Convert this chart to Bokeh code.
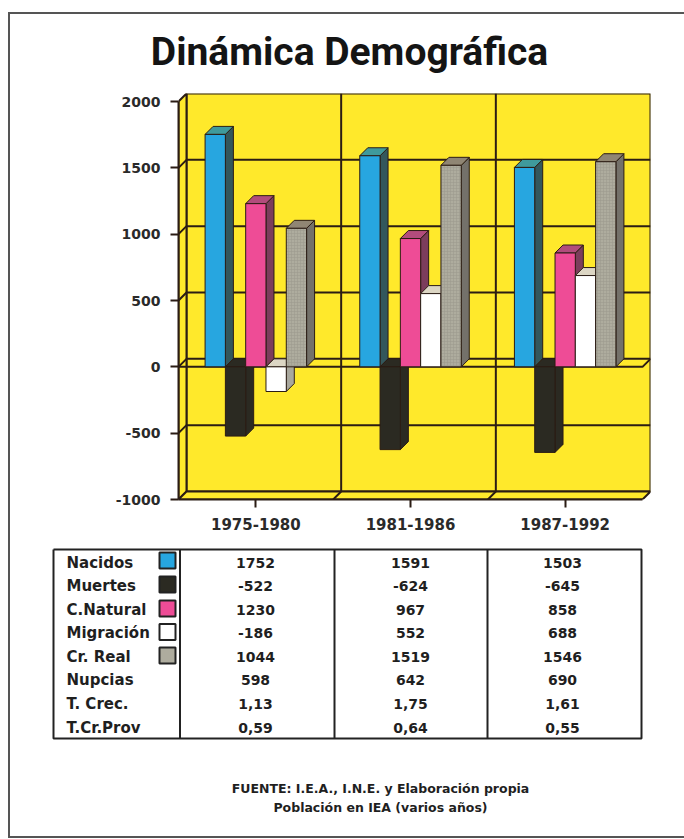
from bokeh.plotting import figure
from bokeh.layouts import column
from bokeh.models import FixedTicker, Range1d
from bokeh.core.properties import value
from bokeh.embed import file_html
from bokeh.resources import INLINE

TITLE = "Dinámica Demográfica"
PERIODS = ["1975-1980", "1981-1986", "1987-1992"]
NACIDOS = [1752, 1591, 1503]
MUERTES = [-522, -624, -645]
NATURAL = [1230, 967, 858]
MIGRACION = [-186, 552, 688]
REAL = [1044, 1519, 1546]
NUPCIAS = ["598", "642", "690"]
T_CREC = ["1,13", "1,75", "1,61"]
T_PROV = ["0,59", "0,64", "0,55"]
Y_TICKS = [-1000, -500, 0, 500, 1000, 1500, 2000]
ROW_LABELS = ["Nacidos", "Muertes", "C.Natural", "Migración", "Cr. Real", "Nupcias", "T. Crec.", "T.Cr.Prov"]
FOOT = ["FUENTE: I.E.A., I.N.E. y Elaboración propia", "Población en IEA (varios años)"]

INK = "#2b1c14"
YELLOW = "#ffe92b"
FONT = value("DejaVu Sans")
SERIES = [
    (NACIDOS, "#27a6e0", "#33575c", "#3f9a9c"),
    (MUERTES, "#2b2a22", "#2b2a22", "#2b2a22"),
    (NATURAL, "#ee4c96", "#7c3d5c", "#b24c7c"),
    (MIGRACION, "#ffffff", "#a9a89e", "#dcd6c4"),
    (REAL, "#aeac9e", "#74716a", "#908674"),
]

W = 674
X0, Y0 = 10, 14        # where the figures start on the page
Y1, Y2, Y3 = 84, 540, 836
L, R = 178, 642
B0, T0 = 499, 101
PX_X = (R - L) / 3
PX_Y = (B0 - T0) / 3000
DX = 8 / PX_X
DY = 8 / PX_Y
BAR = 20.3 / PX_X


def blank(height, x_range, y_range):
    f = figure(width=W, height=height, output_backend="svg", toolbar_location=None,
               x_range=x_range, y_range=y_range, min_border_left=0, min_border_right=0,
               min_border_top=0, min_border_bottom=0)
    f.axis.visible = False
    f.grid.visible = False
    f.outline_line_color = None
    f.background_fill_color = None
    f.border_fill_color = None
    f.frame_align = False
    return f


# header
h = blank(Y1 - Y0, Range1d(X0, X0 + W), Range1d(Y1, Y0))
h.text([349], [51], text=[TITLE], text_align="center", text_baseline="middle",
       text_font=value("Roboto"), text_font_style="bold", text_font_size="39px", text_color="#141414")

# chart
p = figure(width=W, height=Y2 - Y1, output_backend="svg", toolbar_location=None,
           x_range=Range1d(0, 3 + DX), y_range=Range1d(-1000, 2000 + DY),
           min_border_left=L - X0, min_border_right=X0 + W - R - 8, min_border_top=T0 - 8 - Y1, min_border_bottom=Y2 - B0)
p.outline_line_color = None
p.grid.visible = False
p.background_fill_color = None
p.border_fill_color = None
p.frame_align = False

LOW, HIGH = -1000, 2000
p.patch([DX, 3 + DX, 3 + DX, DX], [LOW + DY, LOW + DY, HIGH + DY, HIGH + DY], fill_color=YELLOW, line_color=INK, line_width=2)
p.patch([0, DX, DX, 0], [LOW, LOW + DY, HIGH + DY, HIGH], fill_color=YELLOW, line_color=INK, line_width=2)
p.patch([0, 3, 3 + DX, DX], [LOW, LOW, LOW + DY, LOW + DY], fill_color=YELLOW, line_color=INK, line_width=2)
for t in Y_TICKS[1:-1]:
    p.line([0, DX, 3 + DX], [t, t + DY, t + DY], line_color=INK, line_width=2)
for i in (1, 2):
    p.line([i, i + DX, i + DX], [LOW, LOW + DY, HIGH + DY], line_color=INK, line_width=2)
p.line([0, 3, 3 + DX], [0, 0, DY], line_color=INK, line_width=2)

for g in range(3):
    x0 = g + 0.5 - 2.5 * BAR
    for vals, front, side, top in SERIES:
        v = vals[g]
        x1 = x0 + BAR
        hi = max(v, 0)
        hatch = dict(hatch_pattern="cross", hatch_color="#9b998c", hatch_scale=3, hatch_weight=0.5) if vals is REAL else {}
        p.patch([x1, x1 + DX, x1 + DX, x1], [0, DY, v + DY, v], fill_color=side, line_color=INK, line_width=1)
        p.patch([x0, x0 + DX, x1 + DX, x1], [hi, hi + DY, hi + DY, hi], fill_color=top, line_color=INK, line_width=1)
        p.patch([x0, x1, x1, x0], [0, 0, v, v], fill_color=front, line_color=INK, line_width=1, **hatch)
        x0 = x1

p.yaxis.ticker = FixedTicker(ticks=Y_TICKS)
p.yaxis.bounds = (LOW, HIGH)
p.yaxis.major_label_overrides = {t: str(t) for t in Y_TICKS}
p.xaxis.ticker = FixedTicker(ticks=[0.5, 1.5, 2.5])
p.xaxis.bounds = (0, 3)
p.xaxis.major_label_overrides = {0.5: PERIODS[0], 1.5: PERIODS[1], 2.5: PERIODS[2]}
for ax in (p.xaxis, p.yaxis):
    ax.axis_line_color = INK
    ax.axis_line_width = 2
    ax.major_tick_line_color = INK
    ax.major_tick_line_width = 2
    ax.major_tick_out = 8
    ax.major_tick_in = 0
    ax.minor_tick_line_color = None
    ax.major_label_text_font = "DejaVu Sans"
    ax.major_label_text_font_style = "bold"
    ax.major_label_text_color = "#2a2a2a"
p.yaxis.major_label_text_font_size = "14px"
p.yaxis.major_label_standoff = 10
p.xaxis.major_label_text_font_size = "15px"
p.xaxis.major_label_standoff = 10

# table
t = blank(Y3 - Y2, Range1d(X0, X0 + W), Range1d(Y3, Y2))
ROW_Y = [562, 585.5, 609, 632.5, 656, 679.5, 703, 727]
COL_X = [255, 410, 562]
LEFT, RIGHT, TOP, BOTTOM = 53, 641, 549, 738
t.multi_line([[LEFT, RIGHT, RIGHT, LEFT, LEFT], [179.5, 179.5], [334, 334], [487, 487]],
             [[TOP, TOP, BOTTOM, BOTTOM, TOP], [TOP, BOTTOM], [TOP, BOTTOM], [TOP, BOTTOM]],
             line_color="#222222", line_width=2)
t.text([66] * 8, ROW_Y, text=ROW_LABELS, text_baseline="middle", text_font=FONT, text_font_style="bold",
       text_font_size="15px", text_color="#1f1f1f")
rows = [NACIDOS, MUERTES, NATURAL, MIGRACION, REAL, NUPCIAS, T_CREC, T_PROV]
for c, x in enumerate(COL_X):
    t.text([x] * 8, ROW_Y, text=[str(r[c]) for r in rows], text_align="center", text_baseline="middle",
           text_font=FONT, text_font_style="bold", text_font_size="14px", text_color="#1f1f1f")
SW_Y = [560, 584, 608, 631.5, 655]
for (vals, front, side, top), y in zip(SERIES, SW_Y):
    t.rect([167], [y], width=16, height=16, fill_color=front, line_color="#222222", line_width=2)
t.text([380, 380], [788, 807], text=FOOT, text_align="center", text_baseline="middle", text_font=FONT,
       text_font_style="bold", text_font_size="12.5px", text_color="#1f1f1f")

page = column(h, p, t, spacing=0, margin=(12, 0, 0, 8),
              styles={"border-left": "2px solid #555555", "border-top": "2px solid #555555", "border-bottom": "2px solid #555555"})
open("out.html", "w").write(file_html(page, INLINE))
